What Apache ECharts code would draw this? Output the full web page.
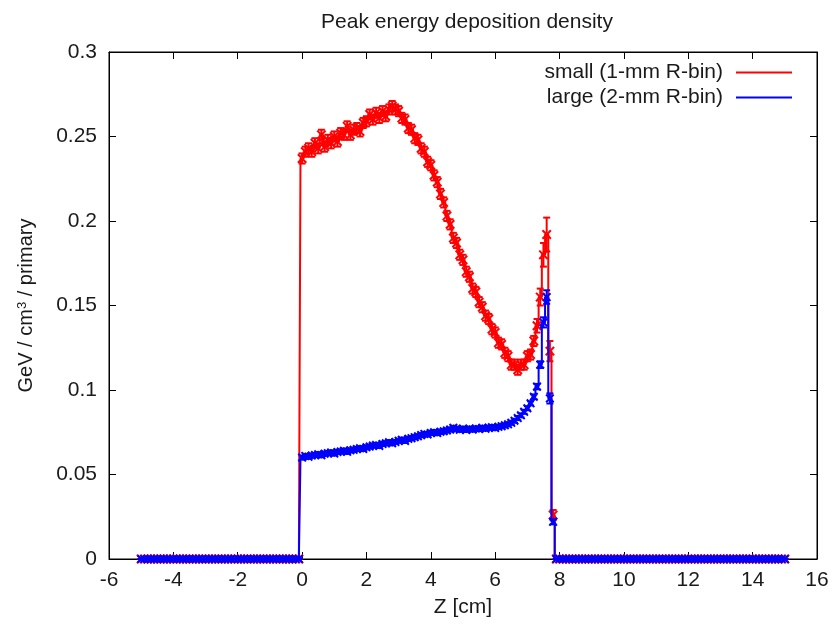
<!DOCTYPE html>
<html>
<head>
<meta charset="utf-8">
<script src="https://cdn.jsdelivr.net/npm/echarts@6/dist/echarts.min.js"></script>
<style>html,body{margin:0;padding:0;background:#fff}#c{width:834px;height:624px}</style>
</head>
<body>
<div id="c"></div>
<script>
// Bins: centers from -5.0 to 15.0, width 0.1 cm
const binStart = -5.0;
const binWidth = 0.1;
// bins -5.0 .. -0.1 (50 bins), all zero
const zeroLeft = [0,0,0,0,0,0,0,0,0,0, 0,0,0,0,0,0,0,0,0,0, 0,0,0,0,0,0,0,0,0,0, 0,0,0,0,0,0,0,0,0,0, 0,0,0,0,0,0,0,0,0,0];
// bins 7.9 .. 15.0 (72 bins), all zero
const zeroRight = [0,0,0,0,0,0,0,0,0,0, 0,0,0,0,0,0,0,0,0,0, 0,0,0,0,0,0,0,0,0,0, 0,0,0,0,0,0,0,0,0,0, 0,0,0,0,0,0,0,0,0,0, 0,0,0,0,0,0,0,0,0,0, 0,0,0,0,0,0,0,0,0,0, 0,0];
// bins 0.0 .. 7.8 (79 bins)
const smallMid = [
 0.237,0.241,0.243,0.241,0.246,0.243,0.251,0.244,0.248,0.246,
 0.250,0.247,0.252,0.251,0.256,0.251,0.254,0.255,0.253,0.258,
 0.259,0.263,0.260,0.264,0.261,0.265,0.262,0.266,0.268,0.266,
 0.265,0.261,0.260,0.255,0.254,0.249,0.248,0.243,0.241,0.235,
 0.233,0.227,0.223,0.216,0.211,0.203,0.198,0.190,0.187,0.180,
 0.177,0.170,0.167,0.160,0.158,0.152,0.149,0.144,0.142,0.136,
 0.134,0.128,0.127,0.122,0.120,0.115,0.115,0.112,0.115,0.115,
 0.120,0.121,0.129,0.138,0.155,0.180,0.192,0.123,0.026];
const smallErrMid = [
 0.003,0.003,0.003,0.003,0.003,0.003,0.003,0.003,0.003,0.003,
 0.003,0.003,0.003,0.003,0.003,0.003,0.003,0.003,0.003,0.003,
 0.003,0.003,0.003,0.003,0.003,0.003,0.003,0.003,0.003,0.003,
 0.003,0.003,0.003,0.003,0.003,0.003,0.003,0.003,0.003,0.003,
 0.003,0.003,0.003,0.003,0.003,0.003,0.003,0.003,0.003,0.003,
 0.003,0.003,0.003,0.003,0.003,0.003,0.003,0.003,0.003,0.003,
 0.003,0.003,0.003,0.003,0.003,0.003,0.003,0.003,0.003,0.003,
 0.003,0.003,0.003,0.004,0.005,0.007,0.010,0.006,0.003];
const largeMid = [
 0.0600,0.0610,0.0605,0.0612,0.0615,0.0620,0.0614,0.0623,0.0626,0.0630,
 0.0624,0.0633,0.0636,0.0641,0.0634,0.0643,0.0646,0.0651,0.0655,0.0651,
 0.0661,0.0665,0.0671,0.0675,0.0669,0.0681,0.0685,0.0691,0.0685,0.0693,
 0.0700,0.0706,0.0699,0.0711,0.0715,0.0721,0.0726,0.0733,0.0740,0.0737,
 0.0746,0.0750,0.0745,0.0753,0.0756,0.0761,0.0766,0.0776,0.0770,0.0765,
 0.0771,0.0764,0.0771,0.0766,0.0772,0.0769,0.0776,0.0771,0.0777,0.0780,
 0.0775,0.0782,0.0786,0.0791,0.0797,0.0806,0.0818,0.0834,0.0850,0.0871,
 0.0892,0.0921,0.0960,0.1020,0.1150,0.1400,0.1550,0.0950,0.0220];
const largeErrMid = [
 0.0012,0.0012,0.0012,0.0012,0.0012,0.0012,0.0012,0.0012,0.0012,0.0012,
 0.0012,0.0012,0.0012,0.0012,0.0012,0.0012,0.0012,0.0012,0.0012,0.0012,
 0.0012,0.0012,0.0012,0.0012,0.0012,0.0012,0.0012,0.0012,0.0012,0.0012,
 0.0012,0.0012,0.0012,0.0012,0.0012,0.0012,0.0012,0.0012,0.0012,0.0012,
 0.0012,0.0012,0.0012,0.0012,0.0012,0.0012,0.0012,0.0012,0.0012,0.0012,
 0.0012,0.0012,0.0012,0.0012,0.0012,0.0012,0.0012,0.0012,0.0012,0.0012,
 0.0012,0.0012,0.0012,0.0012,0.0012,0.0012,0.0012,0.0012,0.0012,0.0012,
 0.0012,0.0012,0.0014,0.0016,0.0020,0.0030,0.0040,0.0030,0.0015];

const smallVals = zeroLeft.concat(smallMid, zeroRight);
const smallErr = zeroLeft.concat(smallErrMid, zeroRight);
const largeVals = zeroLeft.concat(largeMid, zeroRight);
const largeErr = zeroLeft.concat(largeErrMid, zeroRight);

const xTicks = [-6,-4,-2,0,2,4,6,8,10,12,14,16];
const yTicks = [0,0.05,0.1,0.15,0.2,0.25,0.3];
const nameSmall = 'small (1-mm R-bin)';
const nameLarge = 'large (2-mm R-bin)';

function binCenters(n){ const z=[]; for(let i=0;i<n;i++) z.push(Math.round((binStart+i*binWidth)*10)/10); return z; }
const zBins = binCenters(smallVals.length);

function pts(vals, errs){ return vals.map((v,i)=>[zBins[i], v, errs[i]]); }

function makeErr(color, cap, ms, lw){
  return function(params, api){
    const x=api.value(0), v=api.value(1), e=api.value(2);
    const c=api.coord([x,v]); const t=api.coord([x,v+e]); const b=api.coord([x,v-e]);
    const st={stroke:color, lineWidth:lw};
    return {type:'group', children:[
      {type:'line', shape:{x1:c[0],y1:t[1],x2:c[0],y2:b[1]}, style:st},
      {type:'line', shape:{x1:c[0]-cap,y1:t[1],x2:c[0]+cap,y2:t[1]}, style:st},
      {type:'line', shape:{x1:c[0]-cap,y1:b[1],x2:c[0]+cap,y2:b[1]}, style:st},
      {type:'line', shape:{x1:c[0]-ms,y1:c[1]-ms,x2:c[0]+ms,y2:c[1]+ms}, style:st},
      {type:'line', shape:{x1:c[0]-ms,y1:c[1]+ms,x2:c[0]+ms,y2:c[1]-ms}, style:st}
    ]};
  };
}

const font = 'Liberation Sans, Arial, Helvetica, sans-serif';
const txt = '#1a1a1a';
const chart = echarts.init(document.getElementById('c'), null, {renderer:'canvas'});
const axisCommon = {
  axisLine:{show:true, onZero:false, lineStyle:{color:'#000', width:1}},
  axisTick:{show:true, inside:true, length:7, lineStyle:{color:'#000'}},
  splitLine:{show:false}
};
chart.setOption({
  animation:false,
  backgroundColor:'#fff',
  title:{text:'Peak energy deposition density', left:462, textAlign:'center', top:7,
    textStyle:{fontFamily:font, fontSize:21, fontWeight:'normal', color:txt}},
  legend:{orient:'vertical', right:37, top:57, align:'right', itemWidth:56, itemHeight:2, itemGap:4,
    icon:'rect', textStyle:{fontFamily:font, fontSize:21, color:txt, padding:[0,8,0,0]},
    data:[{name:nameSmall},{name:nameLarge}]},
  grid:{left:109, right:17, top:52, bottom:65, show:true, borderColor:'#000', borderWidth:1, backgroundColor:'transparent'},
  xAxis:[
    Object.assign({type:'value', min:-6, max:16, interval:2, position:'bottom',
      name:'Z [cm]', nameLocation:'middle', nameGap:38,
      nameTextStyle:{fontFamily:font, fontSize:21, color:txt},
      axisLabel:{fontFamily:font, fontSize:21, color:txt, margin:11}}, axisCommon),
    Object.assign({type:'value', min:-6, max:16, interval:2, position:'top', axisLabel:{show:false}}, axisCommon)
  ],
  yAxis:[
    Object.assign({type:'value', min:0, max:0.3, interval:0.05, position:'left',
      name:'GeV / cm{s|3} / primary', nameLocation:'middle', nameGap:72, nameRotate:90,
      nameTextStyle:{fontFamily:font, fontSize:20, color:txt, rich:{s:{fontFamily:font, fontSize:13, color:txt, verticalAlign:'top', padding:[0,0,8,0]}}},
      axisLabel:{fontFamily:font, fontSize:21, color:txt, margin:12}}, axisCommon),
    Object.assign({type:'value', min:0, max:0.3, interval:0.05, position:'right', axisLabel:{show:false}}, axisCommon)
  ],
  series:[
    {name:nameSmall, type:'line', step:'middle', data:pts(smallVals, smallErr), showSymbol:false, symbol:'none',
      color:'#ff0000', lineStyle:{color:'#ff0000', width:2}, z:2},
    {name:nameSmall, type:'custom', data:pts(smallVals, smallErr), renderItem:makeErr('#ff0000',3.5,4.2,2),
      encode:{x:0,y:1}, color:'#ff0000', z:2, clip:false},
    {name:nameLarge, type:'line', step:'middle', data:pts(largeVals, largeErr), showSymbol:false, symbol:'none',
      color:'#0000ff', lineStyle:{color:'#0000ff', width:2}, z:3},
    {name:nameLarge, type:'custom', data:pts(largeVals, largeErr), renderItem:makeErr('#0000ff',3.5,3.8,2),
      encode:{x:0,y:1}, color:'#0000ff', z:3, clip:false}
  ]
});
</script>
</body>
</html>
